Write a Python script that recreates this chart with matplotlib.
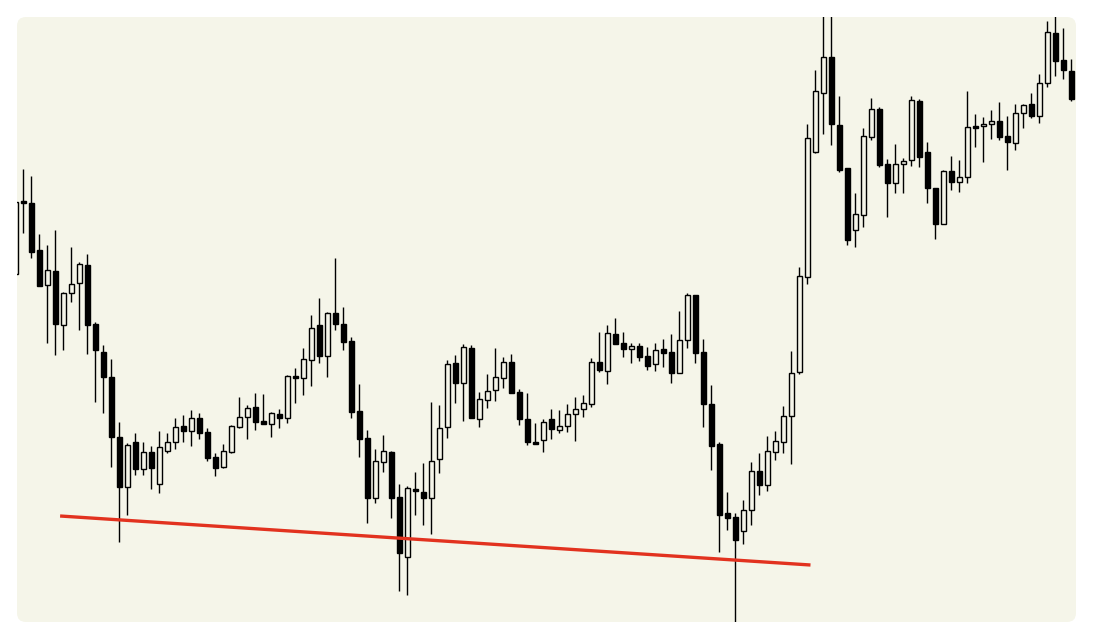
import numpy as np
import matplotlib.pyplot as plt
from matplotlib.patches import FancyBboxPatch

# candle data (arbitrary price units), one entry per bar
opens = [366, 439, 437, 390, 355, 369, 315, 347, 357, 375,
         316, 288, 263, 203, 153, 198, 171, 188, 156, 189,
         198, 214, 209, 222, 208, 183, 173, 188, 213, 223,
         233, 219, 216, 226, 222, 264, 262, 280, 315, 284,
         327, 316, 299, 229, 202, 142, 178, 188, 143, 83,
         151, 148, 142, 181, 213, 277, 257, 292, 221, 240,
         250, 262, 278, 248, 221, 198, 200, 221, 210, 214,
         226, 231, 236, 278, 269, 306, 297, 291, 294, 284,
         276, 291, 288, 267, 300, 345, 288, 236, 196, 127,
         123, 109, 130, 169, 155, 188, 198, 224, 268, 363,
         488, 547, 583, 515, 472, 410, 425, 503, 531, 476,
         457, 476, 480, 539, 488, 452, 416, 469, 458, 463,
         514, 514, 516, 519, 504, 497, 527, 536, 524, 557,
         607, 580, 569]
highs = [438, 471, 464, 406, 395, 410, 348, 393, 378, 386,
         318, 295, 281, 218, 197, 207, 198, 194, 209, 207,
         222, 225, 230, 227, 212, 187, 196, 215, 243, 235,
         247, 246, 228, 231, 265, 272, 292, 325, 342, 328,
         382, 333, 303, 256, 210, 191, 205, 189, 156, 154,
         168, 177, 238, 235, 280, 285, 296, 295, 248, 266,
         292, 283, 286, 251, 247, 217, 221, 231, 230, 236,
         243, 245, 282, 308, 315, 322, 308, 297, 297, 293,
         297, 301, 306, 329, 347, 345, 301, 255, 198, 148,
         127, 140, 178, 187, 204, 209, 234, 289, 373, 516,
         570, 630, 628, 544, 472, 447, 512, 542, 533, 481,
         496, 482, 544, 541, 498, 452, 470, 484, 480, 549,
         526, 523, 530, 538, 524, 536, 536, 547, 566, 619,
         625, 612, 581]
lows = [366, 407, 382, 354, 297, 285, 290, 338, 310, 286,
        238, 227, 173, 98, 125, 165, 165, 151, 147, 187,
        191, 198, 194, 201, 179, 164, 172, 187, 212, 201,
        210, 216, 203, 212, 217, 237, 245, 254, 277, 263,
        310, 290, 222, 183, 117, 137, 168, 122, 49, 45,
        125, 115, 106, 167, 202, 237, 219, 222, 213, 232,
        239, 252, 247, 215, 195, 196, 188, 201, 207, 208,
        199, 223, 233, 268, 256, 296, 283, 277, 279, 270,
        269, 273, 257, 267, 292, 277, 213, 170, 88, 110,
        18, 96, 115, 145, 149, 180, 187, 176, 266, 356,
        487, 506, 495, 468, 395, 393, 413, 500, 473, 423,
        447, 447, 474, 473, 437, 401, 416, 450, 448, 457,
        493, 478, 501, 500, 470, 490, 512, 522, 517, 553,
        564, 561, 539]
closes = [438, 437, 388, 354, 370, 316, 347, 356, 376, 315,
          290, 263, 203, 153, 195, 171, 188, 172, 193, 198,
          213, 209, 222, 207, 182, 172, 189, 214, 223, 232,
          218, 216, 227, 222, 264, 262, 281, 312, 284, 327,
          316, 298, 228, 201, 142, 179, 189, 142, 87, 152,
          149, 142, 179, 212, 276, 257, 293, 222, 241, 249,
          263, 278, 247, 221, 198, 196, 218, 211, 214, 226,
          231, 237, 278, 270, 307, 296, 291, 294, 283, 274,
          290, 287, 267, 300, 345, 287, 236, 194, 125, 122,
          100, 130, 169, 155, 189, 199, 224, 267, 364, 502,
          549, 583, 516, 470, 400, 426, 504, 531, 475, 457,
          476, 479, 540, 483, 452, 416, 469, 458, 463, 513,
          512, 516, 519, 503, 498, 527, 535, 524, 557, 608,
          579, 570, 541]

# support line drawn across the lows (bar index, price)
trend_idx = [5.6, 99.4]
trend_price = [124, 75]

bg = '#f5f5e9'

if __name__ == '__main__':
    o = np.array(opens, dtype=float)
    h = np.array(highs, dtype=float)
    l = np.array(lows, dtype=float)
    c = np.array(closes, dtype=float)
    x = np.arange(len(o))

    fig = plt.figure(figsize=(10.93, 6.39), dpi=100)
    fig.patch.set_facecolor('white')
    ax = fig.add_axes([0, 0, 1, 1])
    ax.set_facecolor('none')
    ax.axis('off')

    # rounded panel
    panel = FancyBboxPatch((0.17, 0.17), 10.59, 6.05,
                           boxstyle='round,pad=0,rounding_size=0.09',
                           transform=fig.dpi_scale_trans,
                           facecolor=bg, edgecolor='none', zorder=0)
    fig.add_artist(panel)

    up = c >= o
    bottom = np.minimum(o, c)
    height = np.maximum(np.abs(c - o), 1.5)

    wicks = ax.vlines(x, l, h, color='black', linewidth=1.0, zorder=1)
    b1 = ax.bar(x[up], height[up], bottom=bottom[up], width=0.62,
                facecolor=bg, edgecolor='black', linewidth=1.0, zorder=2)
    b2 = ax.bar(x[~up], height[~up], bottom=bottom[~up], width=0.62,
                facecolor='black', edgecolor='black', linewidth=1.0, zorder=2)

    line, = ax.plot(trend_idx, trend_price, color='#e2321f', linewidth=2.4,
                    solid_capstyle='butt', zorder=3)

    ax.set_xlim(-15.3 / 8, (1093 - 15.3) / 8)
    ax.set_ylim(1, 640)

    wicks.set_clip_path(panel)
    for r in list(b1) + list(b2):
        r.set_clip_path(panel)

    plt.savefig('out.png', dpi=100, facecolor='white')
